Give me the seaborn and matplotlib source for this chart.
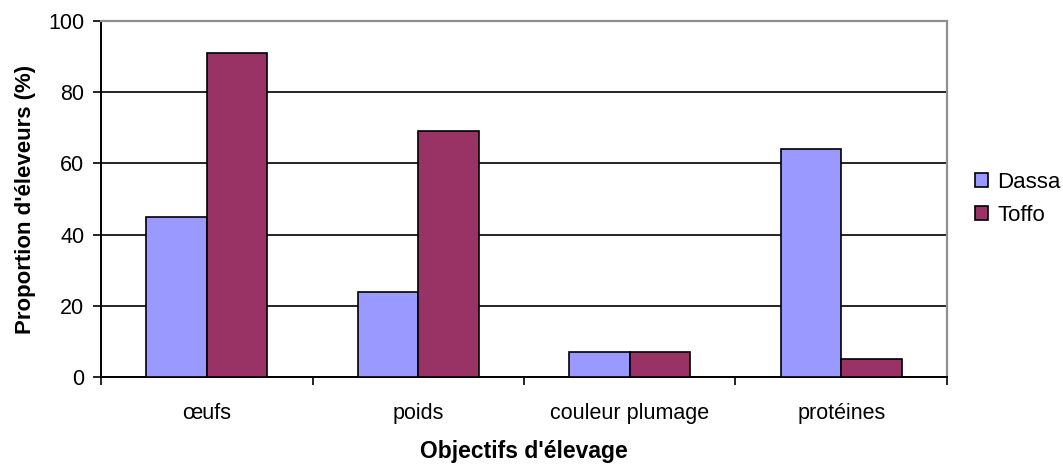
import matplotlib
matplotlib.use("Agg")
import matplotlib.pyplot as plt
import seaborn as sns
import pandas as pd
from matplotlib.ticker import FixedLocator, NullFormatter

categories = ["œufs", "poids", "couleur plumage", "protéines"]
dassa = [45, 24, 7, 64]
toffo = [91, 69, 7, 5]
series_names = ["Dassa", "Toffo"]
colors = ["#9999FF", "#993366"]

df = pd.DataFrame({
    "objectif": categories * 2,
    "proportion": dassa + toffo,
    "site": [series_names[0]] * len(categories) + [series_names[1]] * len(categories),
})

sns.set_theme(style="white")
plt.rcParams["font.family"] = ["Liberation Sans", "DejaVu Sans"]
plt.rcParams.update({
    "text.color": "black",
    "axes.labelcolor": "black",
    "xtick.color": "black",
    "ytick.color": "black",
})

fig = plt.figure(figsize=(10.63, 4.66), dpi=100)
ax = fig.add_axes([101 / 1063, 1 - 377 / 466, (947 - 101) / 1063, (377 - 21) / 466])

sns.barplot(data=df, x="objectif", y="proportion", hue="site",
            palette=colors, width=0.572, gap=0, edgecolor="black",
            linewidth=1.2, saturation=1, ax=ax, zorder=3)

ax.set_xlim(-0.5, 3.5)
ax.set_ylim(0, 100)
ax.set_yticks([0, 20, 40, 60, 80, 100])
ax.yaxis.grid(True, color="black", linewidth=1.2, zorder=0)
ax.set_axisbelow(True)

# category separators as minor ticks on the x axis
ax.xaxis.set_minor_locator(FixedLocator([-0.5, 0.5, 1.5, 2.5, 3.5]))
ax.xaxis.set_minor_formatter(NullFormatter())
ax.tick_params(axis="x", which="major", length=0, labelsize=15.5, pad=19)
ax.tick_params(axis="x", which="minor", length=6, width=1.2, color="black", direction="out", bottom=True)
ax.tick_params(axis="y", length=6, width=1.2, color="black", direction="out", left=True,
               labelsize=15.5, pad=6)

for side in ["left", "bottom"]:
    ax.spines[side].set_color("black")
    ax.spines[side].set_linewidth(1.4)
for side in ["top", "right"]:
    ax.spines[side].set_visible(True)
    ax.spines[side].set_color("#909090")
    ax.spines[side].set_linewidth(1.6)

ax.set_xlabel("Objectifs d'élevage", fontsize=16.5, fontweight="bold", labelpad=11)
ax.set_ylabel("Proportion d'éleveurs (%)", fontsize=16, fontweight="bold", labelpad=9)

handles, labels = ax.get_legend_handles_labels()
ax.legend(handles, labels, loc="center left", bbox_to_anchor=(1.033, 0.5),
          frameon=False, fontsize=16, handlelength=0.6, handleheight=0.6,
          handletextpad=0.4, labelspacing=0.55, borderaxespad=0, borderpad=0)

fig.savefig("out.png", dpi=100)
